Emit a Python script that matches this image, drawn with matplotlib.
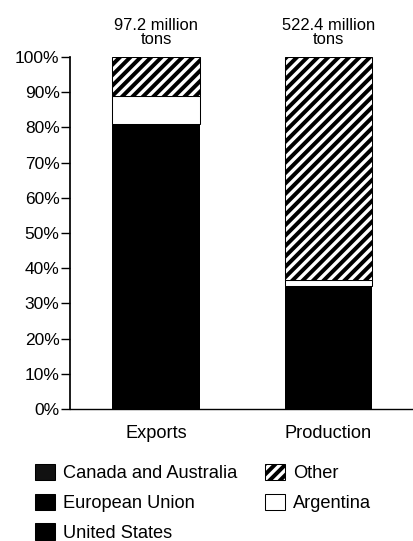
import matplotlib
matplotlib.use('Agg')
import matplotlib.pyplot as plt
from matplotlib.patches import Patch

# Shares of world total (%)
categories = ['Exports', 'Production']
totals = ['97.2 million\ntons', '522.4 million\ntons']
united_states = [33.0, 12.0]
european_union = [20.0, 16.0]
canada_australia = [28.0, 7.0]
argentina = [8.0, 1.7]
other = [11.0, 63.3]
yticks = [0, 10, 20, 30, 40, 50, 60, 70, 80, 90, 100]
ytick_labels = ['0%', '10%', '20%', '30%', '40%', '50%', '60%', '70%', '80%', '90%', '100%']

plt.rcParams['font.family'] = ['Liberation Sans', 'DejaVu Sans']
plt.rcParams['hatch.linewidth'] = 2.3

fig = plt.figure(figsize=(413 / 125, 541 / 125), dpi=125)
ax = fig.add_axes([70 / 413, 0.244, 1 - 70 / 413, 0.6506])

x = [0, 1]
w = 0.51

# the three country groups all print as solid black
bottom = [0.0, 0.0]
ax.bar(x, united_states, w, bottom=bottom, color='black', linewidth=0)
bottom = [bottom[i] + united_states[i] for i in range(2)]
ax.bar(x, european_union, w, bottom=bottom, color='black', linewidth=0)
bottom = [bottom[i] + european_union[i] for i in range(2)]
ax.bar(x, canada_australia, w, bottom=bottom, color='black', linewidth=0)
bottom = [bottom[i] + canada_australia[i] for i in range(2)]
ax.bar(x, argentina, w, bottom=bottom, color='white', edgecolor='black', linewidth=0.6)
bottom = [bottom[i] + argentina[i] for i in range(2)]
ax.bar(x, other, w, bottom=bottom, color='white', edgecolor='black',
       hatch='////', linewidth=0.6)

for xi, t in zip(x, totals):
    ax.annotate(t, (xi, 100), xytext=(0, 5.5), textcoords='offset points',
                ha='center', va='bottom', fontsize=9.5, linespacing=0.92)

ax.set_xlim(-0.5, 1.49)
ax.set_ylim(0, 100)
ax.set_yticks(yticks)
ax.set_yticklabels(ytick_labels, fontsize=10)
ax.set_xticks(x)
ax.set_xticklabels(categories, fontsize=10.5)
ax.tick_params(axis='y', direction='out', length=5, width=0.8, pad=1)
ax.tick_params(axis='x', length=0, pad=9)
for s in ['top', 'right']:
    ax.spines[s].set_visible(False)
ax.spines['left'].set_linewidth(1.0)
ax.spines['bottom'].set_linewidth(0.8)

handles = [
    Patch(facecolor='#111111', edgecolor='black', linewidth=0.6),
    Patch(facecolor='black', edgecolor='black', linewidth=0.6),
    Patch(facecolor='black', edgecolor='black', linewidth=0.6),
    Patch(facecolor='white', edgecolor='black', hatch='////', linewidth=0.6),
    Patch(facecolor='white', edgecolor='black', linewidth=0.6),
]
labels = ['Canada and Australia', 'European Union', 'United States', 'Other', 'Argentina']
fig.legend(handles, labels, ncol=2, loc='upper left',
           bbox_to_anchor=(35 / 413, 1 - 464 / 541), frameon=False,
           fontsize=10.5, borderpad=0, borderaxespad=0,
           handlelength=1.1, handleheight=1.0, handletextpad=0.45,
           labelspacing=0.62, columnspacing=1.5)

fig.savefig('out.png', dpi=125)
